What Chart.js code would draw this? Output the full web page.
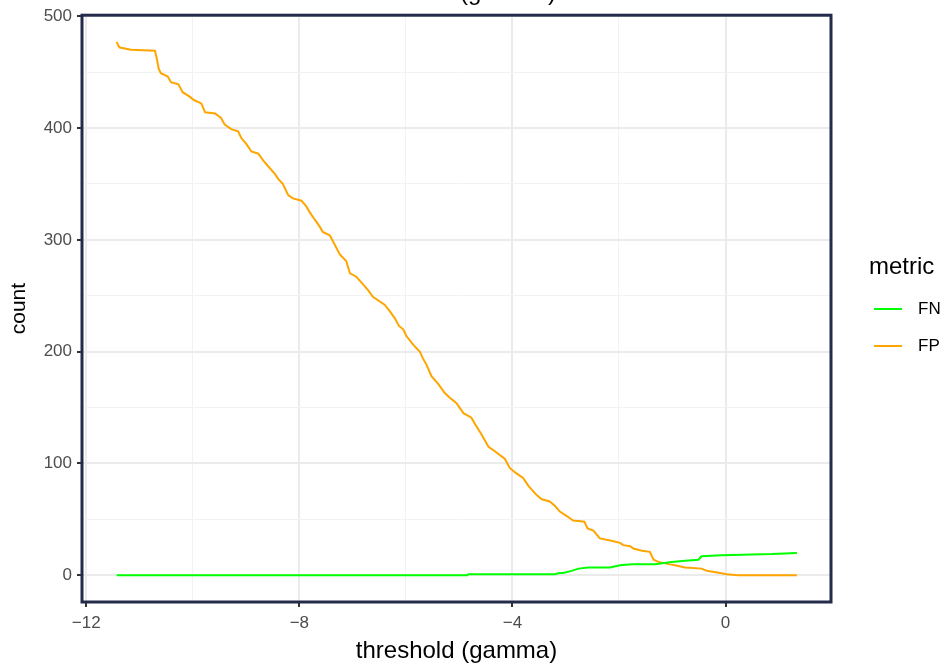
<!DOCTYPE html>
<html>
<head>
<meta charset="utf-8">
<script src="https://cdn.jsdelivr.net/npm/chart.js@4"></script>
<style>
  body { margin: 0; background: #ffffff; }
  #wrap { width: 950px; height: 670px; }
</style>
</head>
<body>
<div id="wrap"><canvas id="chart" width="950" height="670"></canvas></div>
<script>
// valores
const fpX = [-11.43, -11.39, -11.37, -11.16, -10.71, -10.68, -10.64, -10.60, -10.47, -10.41, -10.27, -10.19, -10.06, -9.98,
  -9.84, -9.77, -9.58, -9.47, -9.40, -9.28, -9.15, -9.09, -9.00, -8.90, -8.77, -8.68, -8.59, -8.46, -8.39, -8.31,
  -8.21, -8.12, -7.96, -7.87, -7.81, -7.71, -7.62, -7.56, -7.43, -7.34, -7.24, -7.12, -7.05, -6.93, -6.80, -6.71,
  -6.62, -6.40, -6.30, -6.21, -6.13, -6.05, -5.99, -5.86, -5.74, -5.68, -5.61, -5.52, -5.39, -5.27, -5.18, -5.05,
  -4.92, -4.77, -4.70, -4.58, -4.45, -4.33, -4.14, -4.05, -3.95, -3.80, -3.70, -3.55, -3.45, -3.30, -3.20, -3.11,
  -2.98, -2.86, -2.65, -2.59, -2.48, -2.36, -2.14, -1.98, -1.92, -1.79, -1.73, -1.57, -1.42, -1.35, -1.26, -1.07,
  -0.95, -0.76, -0.45, -0.35, -0.10, 0.02, 0.24, 1.34];
const fpY = [477, 473, 472, 470, 469, 463, 453, 449, 446, 441, 439, 432, 428, 425,
  422, 414, 413, 409, 403, 399, 397, 391, 386, 379, 377, 371, 366, 359, 354, 350,
  340, 337, 335, 330, 325, 318, 312, 307, 304, 296, 287, 281, 270, 267, 260, 255,
  249, 242, 236, 230, 223, 220, 214, 206, 200, 194, 188, 178, 171, 163, 159, 154,
  145, 141, 135, 126, 115, 111, 104, 96, 92, 87, 80, 72, 68, 66, 62, 57,
  53, 49, 48, 42, 40, 33, 31, 29, 27, 26, 24, 22, 21, 14, 12, 10,
  9, 7, 6, 4, 2, 1, 0, 0];

const fnX = [-11.43, -4.85, -4.83, -3.20, -3.12, -3.05, -2.89, -2.76, -2.58, -2.17, -1.98, -1.76, -1.32, -1.01,
  -0.76, -0.51, -0.45, -0.07, 0.87, 1.34];
const fnY = [0, 0, 1, 1, 2, 2, 4, 6, 7, 7, 9, 10, 10, 12, 13, 14, 17, 18, 19, 20];

const xTicks = [-12, -8, -4, 0];
const xMinor = [-10, -6, -2];
const yTicks = [0, 100, 200, 300, 400, 500];
const yMinor = [50, 150, 250, 350, 450];

const titulo = 'FN and FP counts vs threshold (gamma)';
const tituloX = 'threshold (gamma)';
const tituloY = 'count';
const tituloLeyenda = 'metric';

function juntar(xs, ys) {
  return xs.map((x, i) => ({ x: x, y: ys[i] }));
}

function etiqueta(v) {
  if (v < 0) return '\u2212' + Math.abs(v);
  return String(v);
}

const fuente = 'Liberation Sans, Arial, sans-serif';

// borde del panel, leyenda y titulo cortado
const extras = {
  id: 'extras',
  afterDraw(chart) {
    const ctx = chart.ctx;
    const a = chart.chartArea;
    ctx.save();
    ctx.strokeStyle = '#232B4A';
    ctx.lineWidth = 3;
    ctx.strokeRect(a.left, a.top, a.right - a.left, a.bottom - a.top);

    ctx.fillStyle = '#000000';
    ctx.font = '24px ' + fuente;
    ctx.textAlign = 'right';
    ctx.textBaseline = 'alphabetic';
    ctx.fillText(titulo, 556, 0);

    ctx.textAlign = 'left';
    ctx.font = '24px ' + fuente;
    ctx.textBaseline = 'middle';
    ctx.fillText(tituloLeyenda, 869, 267);

    ctx.font = '17px ' + fuente;
    chart.data.datasets.forEach((ds, i) => {
      const y = 309 + i * 37;
      ctx.strokeStyle = ds.borderColor;
      ctx.lineWidth = 2;
      ctx.beginPath();
      ctx.moveTo(874, y);
      ctx.lineTo(902, y);
      ctx.stroke();
      ctx.fillStyle = '#000000';
      ctx.fillText(ds.label, 918, y);
    });
    ctx.restore();
  }
};

new Chart(document.getElementById('chart'), {
  type: 'line',
  data: {
    datasets: [{
      label: 'FN',
      data: juntar(fnX, fnY),
      borderColor: '#00FF00',
      borderWidth: 2,
      pointRadius: 0,
      tension: 0,
      fill: false
    }, {
      label: 'FP',
      data: juntar(fpX, fpY),
      borderColor: '#FFA500',
      borderWidth: 2,
      pointRadius: 0,
      tension: 0,
      fill: false
    }]
  },
  options: {
    responsive: false,
    animation: false,
    layout: { padding: { left: 0, right: 119, top: 15, bottom: 0 } },
    plugins: {
      legend: { display: false },
      tooltip: { enabled: false }
    },
    scales: {
      x: {
        type: 'linear',
        min: -12.08,
        max: 1.98,
        afterBuildTicks: s => { s.ticks = xTicks.concat(xMinor).sort((p, q) => p - q).map(v => ({ value: v })); },
        afterFit: s => { s.height = 68; },
        border: { display: false },
        grid: {
          color: c => xTicks.includes(c.tick.value) ? '#EBEBEB' : '#F2F2F2',
          lineWidth: c => xTicks.includes(c.tick.value) ? 2 : 1,
          tickColor: c => xTicks.includes(c.tick.value) ? '#333333' : 'rgba(0,0,0,0)',
          tickLength: 5
        },
        ticks: {
          autoSkip: false,
          maxRotation: 0,
          padding: 6,
          color: '#4D4D4D',
          font: { family: fuente, size: 17 },
          callback: v => xTicks.includes(v) ? etiqueta(v) : ''
        },
        title: {
          display: true,
          text: tituloX,
          color: '#000000',
          font: { family: fuente, size: 24 },
          padding: { top: 0, bottom: 4 }
        }
      },
      y: {
        type: 'linear',
        min: -23.85,
        max: 500.85,
        afterBuildTicks: s => { s.ticks = yTicks.concat(yMinor).sort((p, q) => p - q).map(v => ({ value: v })); },
        afterFit: s => { s.width = 82; },
        border: { display: false },
        grid: {
          color: c => yTicks.includes(c.tick.value) ? '#EBEBEB' : '#F2F2F2',
          lineWidth: c => yTicks.includes(c.tick.value) ? 2 : 1,
          tickColor: c => yTicks.includes(c.tick.value) ? '#333333' : 'rgba(0,0,0,0)',
          tickLength: 5
        },
        ticks: {
          autoSkip: false,
          padding: 5,
          color: '#4D4D4D',
          font: { family: fuente, size: 17 },
          callback: v => yTicks.includes(v) ? etiqueta(v) : ''
        },
        title: {
          display: true,
          text: tituloY,
          color: '#000000',
          font: { family: fuente, size: 21 },
          padding: { top: 7, bottom: 0 }
        }
      }
    }
  },
  plugins: [extras]
});
</script>
</body>
</html>
